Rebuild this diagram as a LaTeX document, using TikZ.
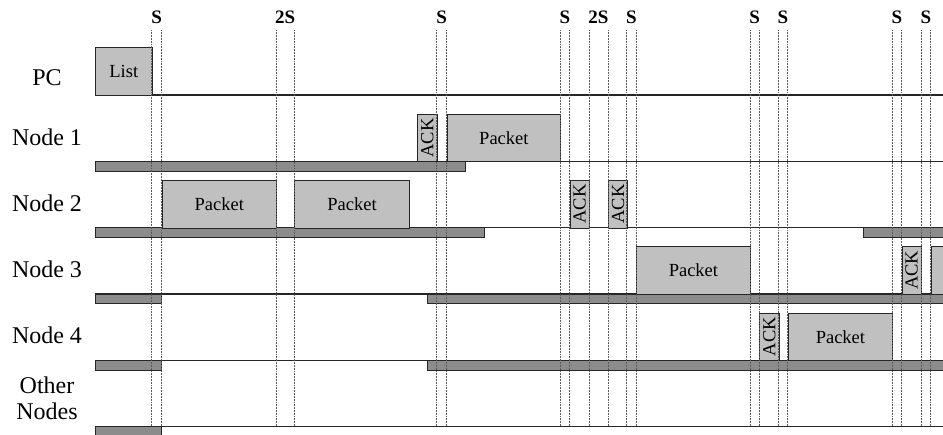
\documentclass[tikz,border=0pt]{standalone}
\usepackage{fontspec}
\setmainfont{Liberation Serif}
\usepackage{tikz}
\usetikzlibrary{positioning}
\definecolor{boxfill}{RGB}{192,192,192}
\definecolor{busygray}{RGB}{140,140,140}
\definecolor{slotgray}{RGB}{90,90,90}
\tikzset{
  rowlabel/.style={align=center,font=\fontsize{24}{26}\selectfont,inner sep=0pt},
  slotlabel/.style={font=\fontsize{19}{21}\selectfont\bfseries,inner sep=0pt},
  framebox/.style={rectangle,draw=black!85,line width=0.8pt,fill=boxfill,inner sep=0pt,
                   anchor=north west,minimum height=47.7pt,font=\fontsize{18.5}{20}\selectfont},
  pktbox/.style={framebox,minimum width=113.6pt},
  ackbox/.style={framebox,minimum width=19.2pt},
  busybar/.style={draw=black!85,line width=0.8pt,fill=busygray},
  rowline/.style={draw=black!85,line width=1.3pt},
  slotline/.style={densely dotted,draw=slotgray,line width=0.55pt}
}

\begin{document}
\begin{tikzpicture}[x=1pt,y=-1pt]
  \useasboundingbox (0,0) rectangle (943,434);
  \clip (0,0) rectangle (943,434);

  % row names
  \node[rowlabel] (pc) at (47,78) {PC};
  \node[rowlabel] (n1) at (47,137) {Node 1};
  \node[rowlabel] (n2) at (47,203) {Node 2};
  \node[rowlabel] (n3) at (47,269) {Node 3};
  \node[rowlabel] (n4) at (47,335) {Node 4};
  \node[rowlabel] (others) at (47,398) {Other\\Nodes};

  % time lines and busy periods
  \draw[rowline] (95,95) -- (950,95);
  \draw[rowline] (95,161.3) -- (950,161.3);
  \draw[busybar] (95,161.3) rectangle (465.7,171);
  \draw[rowline] (95,227.6) -- (950,227.6);
  \draw[busybar] (95,227.6) rectangle (484.3,237.3);
  \draw[busybar] (863.7,227.6) rectangle (960,237.3);
  \draw[rowline] (95,293.9) -- (950,293.9);
  \draw[busybar] (95,293.9) rectangle (161.7,303.6);
  \draw[busybar] (427.3,293.9) rectangle (960,303.6);
  \draw[rowline] (95,360.2) -- (950,360.2);
  \draw[busybar] (95,360.2) rectangle (161.7,369.9);
  \draw[busybar] (427.3,360.2) rectangle (960,369.9);
  \draw[rowline] (95,426.5) -- (950,426.5);
  \draw[busybar] (95,426.5) rectangle (161.7,440);

  % PC
  \node[framebox,minimum width=56.7pt] (list) at (95,47.3) {List};
  % Node 1
  \node[ackbox] (ack1) at (417.3,113.6) {\rotatebox{90}{ACK}};
  \node[pktbox] (pkt1) at (446.7,113.6) {Packet};
  % Node 2
  \node[pktbox,minimum width=114.3pt] (pkt2a) at (161.7,179.9) {Packet};
  \node[pktbox,minimum width=114.7pt] (pkt2b) at (294.3,179.9) {Packet};
  \node[ackbox] (ack2a) at (569.7,179.9) {\rotatebox{90}{ACK}};
  \node[ackbox] (ack2b) at (608,179.9) {\rotatebox{90}{ACK}};
  % Node 3
  \node[pktbox,minimum width=114pt] (pkt3) at (636,246.2) {Packet};
  \node[ackbox] (ack3) at (901.7,246.2) {\rotatebox{90}{ACK}};
  \node[pktbox] (pkt3b) at (930.7,246.2) {};
  % Node 4
  \node[ackbox] (ack4) at (759.3,312.5) {\rotatebox{90}{ACK}};
  \node[pktbox,minimum width=104.6pt] (pkt4) at (787.7,312.5) {Packet};

  % slot boundaries
  \foreach \sx in {151.7,161.7,276,294.3,436.7,446.7,560.3,569.7,589,608,
                   626.7,636,750,759.3,778.3,787.7,892.3,901.7,921,930.7}
    \draw[slotline] (\sx,30) -- (\sx,426);

  \node[slotlabel] (s1) at (156.7,17) {S};
  \node[slotlabel] (s2) at (285.2,17) {2S};
  \node[slotlabel] (s3) at (441.7,17) {S};
  \node[slotlabel] (s4) at (565,17) {S};
  \node[slotlabel] (s5) at (598.5,17) {2S};
  \node[slotlabel] (s6) at (631.4,17) {S};
  \node[slotlabel] (s7) at (754.7,17) {S};
  \node[slotlabel] (s8) at (783,17) {S};
  \node[slotlabel] (s9) at (897,17) {S};
  \node[slotlabel] (s10) at (925.8,17) {S};
\end{tikzpicture}
\end{document}
